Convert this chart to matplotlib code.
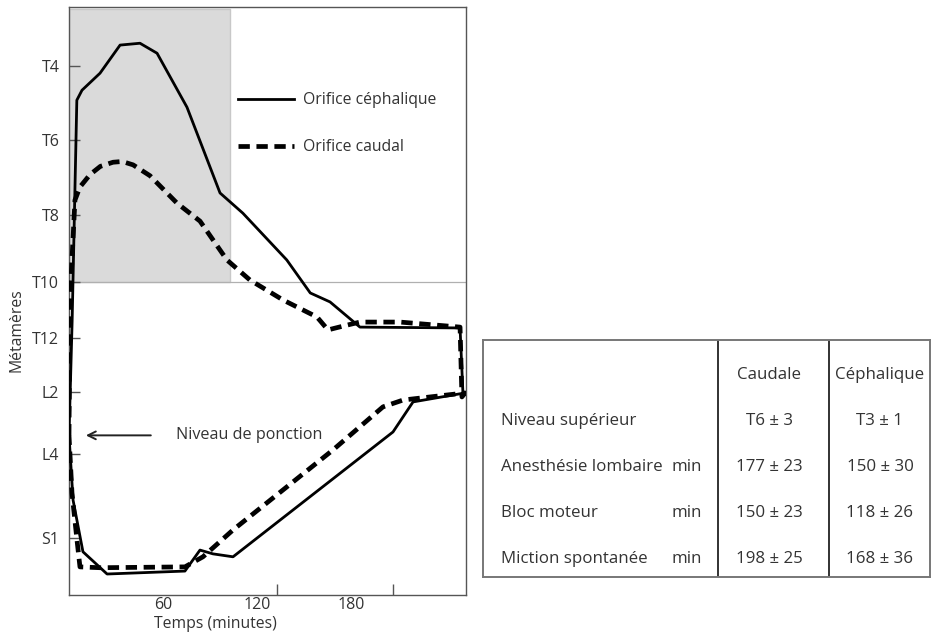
import numpy as np
import matplotlib
matplotlib.use('Agg')
import matplotlib.pyplot as plt
from matplotlib.lines import Line2D

plt.rcParams['font.family'] = ['Open Sans', 'DejaVu Sans']
TXT = '#333333'

# 1. Data (time in minutes, level: T1..T12 = 1..12, L1..L5 = 13..17, S1 = 18)
level_ticks = [4, 6, 8, 10, 12, 14, 16, 18]
level_labels = ['T4', 'T6', 'T8', 'T10', 'T12', 'L2', 'L4', 'S1']
time_labels = [60, 120, 180]
time_marks = [60, 133, 207]   # tick marks are not where the labels are in the original

ceph_t = [0, 2, 5, 8.3, 19.8, 32.6, 45.3, 56.2, 75.3, 96.4, 111, 139, 154, 166.6, 185.7, 249.6, 251.5,
          252.8, 219.6, 206.8, 104.7, 91.9, 83.6, 74, 24.3, 8.9, 2.6, 0]
ceph_lvl = [15.4, 11.4, 4.92, 4.65, 4.19, 3.43, 3.38, 3.65, 5.11, 7.41, 7.95, 9.34, 10.39, 10.71, 11.61, 11.64, 14.1,
            14.03, 14.32, 15.29, 18.45, 18.38, 18.29, 18.79, 18.86, 18.33, 17.1, 15.4]

caud_t = [0, 0.6, 3.8, 7, 13.4, 20, 28.1, 34, 40.9, 51.7, 68.9, 83.6, 100.8, 115.5, 136.6, 158.3, 165.3, 177.4, 185.7,
          211.3, 249.6, 250.8, 252.8, 213.2, 200.4, 168.5, 104.7, 85.5, 74, 19.8, 7, 5.1, 1.9, 0]
caud_lvl = [15.4, 10.64, 7.6, 7.25, 6.92, 6.7, 6.59, 6.57, 6.66, 6.95, 7.68, 8.18, 9.34, 9.94, 10.64, 11.25, 11.71,
            11.54, 11.43, 11.43, 11.61, 14.16, 14.03, 14.26, 14.48, 15.87, 17.81, 18.45, 18.69, 18.71, 18.69, 18.05,
            16.93, 15.4]

puncture_level = 15.4
shade_end = 103      # minutes
shade_level = 10     # T10

row_labels = ['Niveau supérieur', 'Anesthésie lombaire', 'Bloc moteur', 'Miction spontanée']
row_units = ['', 'min', 'min', 'min']
col_labels = ['Caudale', 'Céphalique']
caudal_vals = ['T6 ± 3', '177 ± 23', '150 ± 23', '198 ± 25']
cephal_vals = ['T3 ± 1', '150 ± 30', '118 ± 26', '168 ± 36']

# uneven spacing of the vertebral levels on the printed axis
knots_lvl = [0, 4, 6, 8, 10, 12, 14, 16, 18, 22]
knots_pos = [-82, 66, 140, 215, 282, 338, 392, 454, 538, 706]


def fwd(y):
    return np.interp(y, knots_lvl, knots_pos)


def inv(p):
    return np.interp(p, knots_pos, knots_lvl)


# 2. Figure
fig = plt.figure(figsize=(9.32, 6.32), dpi=100)
ax = fig.add_axes([69 / 932, 37 / 632, 397 / 932, 588 / 632])
ax.set_yscale('function', functions=(fwd, inv))
ax.set_xlim(0, 253.4)
ax.set_ylim(19.36, 2.4)

ax.fill_between([0, shade_end], shade_level, 2.45, color='#dadada', edgecolor='#c8c8c8', lw=1, zorder=1)
ax.axhline(shade_level, color='#b0b0b0', lw=0.9, zorder=1)

ax.plot(ceph_t, ceph_lvl, color='black', lw=2, solid_joinstyle='round', zorder=3)
ax.plot(caud_t, caud_lvl, color='black', lw=3.4, dashes=(2.4, 1.4), zorder=3)

for s in ax.spines.values():
    s.set_color('#555555')
    s.set_linewidth(1)

ax.set_yticks(level_ticks)
ax.set_yticklabels(level_labels)
ax.yaxis.set_minor_locator(matplotlib.ticker.NullLocator())
ax.tick_params(axis='y', direction='in', length=8, width=1, color='#555555', pad=7, labelsize=11.5, labelcolor=TXT)

ax.set_xticks(time_labels)
ax.set_xticks(time_marks, minor=True)
ax.tick_params(axis='x', which='major', length=0, pad=1.5, labelsize=11.5, labelcolor=TXT)
ax.tick_params(axis='x', which='minor', direction='in', length=8, width=1, color='#555555')

ax.set_xlabel('Temps (minutes)', fontsize=11.3, color=TXT)
ax.xaxis.set_label_coords(0.368, -0.035)
ax.set_ylabel('Métamères', fontsize=11.3, color=TXT)
ax.yaxis.set_label_coords(-0.112, 0.45)

handles = [Line2D([], [], color='black', lw=2),
           Line2D([], [], color='black', lw=3.4, dashes=(2.4, 1.4))]
ax.legend(handles, ['Orifice céphalique', 'Orifice caudal'], loc='upper left',
          bbox_to_anchor=(0.405, 0.868), frameon=False, fontsize=11.3, handlelength=3.6,
          labelspacing=1.95, handletextpad=0.55, borderpad=0, labelcolor=TXT)

ax.annotate('', xy=(9, puncture_level), xytext=(54, puncture_level),
            arrowprops=dict(arrowstyle='->', lw=1.4, color='#222222', mutation_scale=14))
ax.text(68, puncture_level, 'Niveau de ponction', fontsize=11.6, color=TXT, va='center', ha='left')

# 3. Summary table
tab = fig.add_axes([483 / 932, 55 / 632, 447 / 932, 237 / 632])
tab.set_xlim(0, 447)
tab.set_ylim(237, 0)
tab.set_xticks([])
tab.set_yticks([])
for s in tab.spines.values():
    s.set_color('#777777')
    s.set_linewidth(1.4)
tab.axvline(235, color='#222222', lw=1.3)
tab.axvline(346, color='#222222', lw=1.3)

fs = 12.2
tab.text(286, 35, col_labels[0], ha='center', va='center', fontsize=fs, color=TXT)
tab.text(397, 35, col_labels[1], ha='center', va='center', fontsize=fs, color=TXT)
for i, (lab, unit, cv, hv) in enumerate(zip(row_labels, row_units, caudal_vals, cephal_vals)):
    y = 81 + 46 * i
    tab.text(18, y, lab, ha='left', va='center', fontsize=fs, color=TXT)
    tab.text(204, y, unit, ha='center', va='center', fontsize=fs, color=TXT)
    tab.text(286, y, cv, ha='center', va='center', fontsize=fs, color=TXT)
    tab.text(397, y, hv, ha='center', va='center', fontsize=fs, color=TXT)

fig.savefig('out.png', dpi=100)
